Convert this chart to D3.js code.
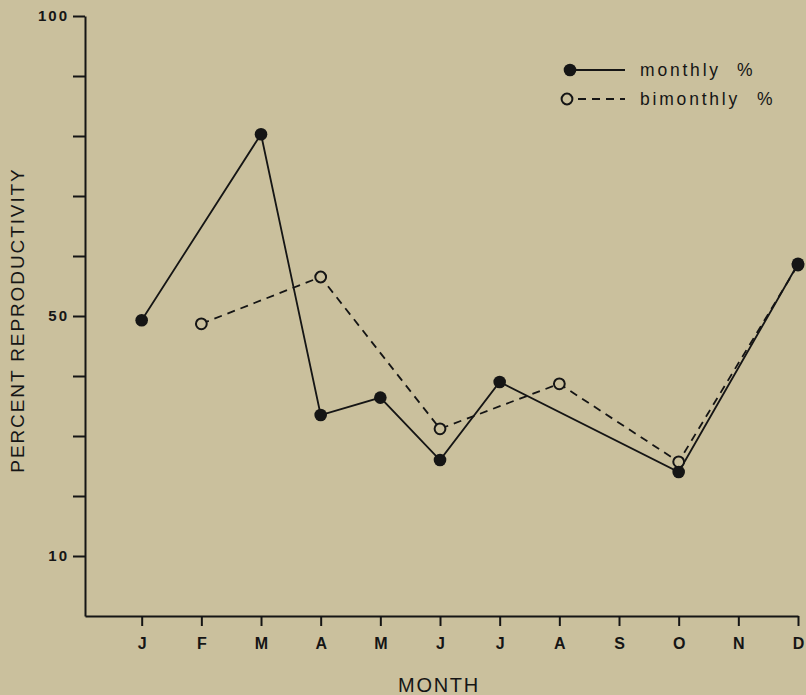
<!DOCTYPE html>
<html lang="en">
<head>
    <meta charset="UTF-8">
    <title>Percent Reproductivity by Month</title>
    <script src="https://d3js.org/d3.v7.min.js"></script>
    <style>
        body { margin: 0; background: #cac09d; }
        svg { display: block; font-family: "Liberation Sans", Arial, sans-serif; }
        .axis path, .axis line { stroke: #151515; stroke-width: 2; fill: none; }
        .axis text { fill: #151515; font-weight: bold; font-family: "Liberation Sans", Arial, sans-serif; }
    </style>
</head>
<body>
    <svg id="chart" width="806" height="695"></svg>

    <script>
        // Data
        const months = ["J", "F", "M", "A", "M", "J", "J", "A", "S", "O", "N", "D"];
        const monthly = [49.3, null, 80.3, 33.5, 36.4, 26.0, 39.0, null, null, 24.0, null, 58.7];
        const bimonthly = [null, 48.7, null, 56.5, null, 31.2, null, 38.7, null, 25.7, null, 58.5];
        const yTicks = [10, 20, 30, 40, 50, 60, 70, 80, 90, 100];
        const yLabels = [10, 50, 100];

        const svg = d3.select("#chart");
        const ink = "#151515";
        const bg = "#cac09d";

        svg.append("rect").attr("width", 806).attr("height", 695).attr("fill", bg);

        const x = d3.scaleLinear().domain([-0.95, 11]).range([85, 798]);
        const y = d3.scaleLinear().domain([0, 100]).range([616, 16]);

        // axes
        const xAxis = svg.append("g")
            .attr("class", "axis x")
            .attr("transform", "translate(0,616)")
            .call(d3.axisBottom(x)
                .tickValues(d3.range(months.length))
                .tickFormat(i => months[i])
                .tickSize(10)
                .tickSizeOuter(0));
        xAxis.selectAll("text")
            .attr("y", 33).attr("dy", null)
            .style("font-size", "16px");

        svg.append("g")
            .attr("class", "axis y")
            .attr("transform", "translate(85,0)")
            .call(d3.axisLeft(y)
                .tickValues(yTicks)
                .tickFormat(d => yLabels.includes(d) ? d : "")
                .tickSize(12)
                .tickSizeOuter(0)
                .tickPadding(4))
            .selectAll("text").style("font-size", "15px").style("letter-spacing", "2px");

        // axis titles
        svg.append("text")
            .attr("x", 439).attr("y", 692)
            .attr("text-anchor", "middle")
            .style("font-size", "20px").style("letter-spacing", "1.7px")
            .attr("fill", ink)
            .text("MONTH");

        svg.append("text")
            .attr("transform", "translate(24,320) rotate(-90)")
            .attr("text-anchor", "middle")
            .style("font-size", "19px").style("letter-spacing", "1.9px")
            .attr("fill", ink)
            .text("PERCENT REPRODUCTIVITY");

        // series
        const toPts = arr => arr.map((v, i) => ({ i, v })).filter(d => d.v != null);
        const mPts = toPts(monthly);
        const bPts = toPts(bimonthly);

        const line = d3.line().x(d => x(d.i)).y(d => y(d.v));

        svg.append("path").datum(bPts)
            .attr("d", line)
            .attr("fill", "none").attr("stroke", ink)
            .attr("stroke-width", 1.8).attr("stroke-dasharray", "8,6");

        svg.append("path").datum(mPts)
            .attr("d", line)
            .attr("fill", "none").attr("stroke", ink)
            .attr("stroke-width", 1.8);

        svg.selectAll(".bdot").data(bPts).enter().append("circle")
            .attr("class", "bdot")
            .attr("cx", d => x(d.i)).attr("cy", d => y(d.v)).attr("r", 5.4)
            .attr("fill", bg).attr("stroke", ink).attr("stroke-width", 2);

        svg.selectAll(".mdot").data(mPts).enter().append("circle")
            .attr("class", "mdot")
            .attr("cx", d => x(d.i)).attr("cy", d => y(d.v)).attr("r", 6.3)
            .attr("fill", ink);

        // legend
        const legend = svg.append("g").attr("transform", "translate(570,70)");
        const legendFont = sel => sel.style("font-size", "17.5px").style("letter-spacing", "2.8px").attr("fill", ink);

        legend.append("line").attr("x1", 0).attr("x2", 55).attr("y1", 0).attr("y2", 0)
            .attr("stroke", ink).attr("stroke-width", 1.8);
        legend.append("circle").attr("cx", 0).attr("cy", 0).attr("r", 6.3).attr("fill", ink);
        legend.append("text").attr("x", 70).attr("y", 6).call(legendFont).text("monthly");
        legend.append("text").attr("x", 167).attr("y", 6).call(legendFont).text("%");

        legend.append("line").attr("x1", 0).attr("x2", 55).attr("y1", 29).attr("y2", 29)
            .attr("stroke", ink).attr("stroke-width", 1.8).attr("stroke-dasharray", "8,6")
            .attr("stroke-dashoffset", -8);
        legend.append("circle").attr("cx", -3).attr("cy", 29).attr("r", 5.4)
            .attr("fill", bg).attr("stroke", ink).attr("stroke-width", 2);
        legend.append("text").attr("x", 70).attr("y", 35).call(legendFont).text("bimonthly");
        legend.append("text").attr("x", 187).attr("y", 35).call(legendFont).text("%");
    </script>
</body>
</html>
